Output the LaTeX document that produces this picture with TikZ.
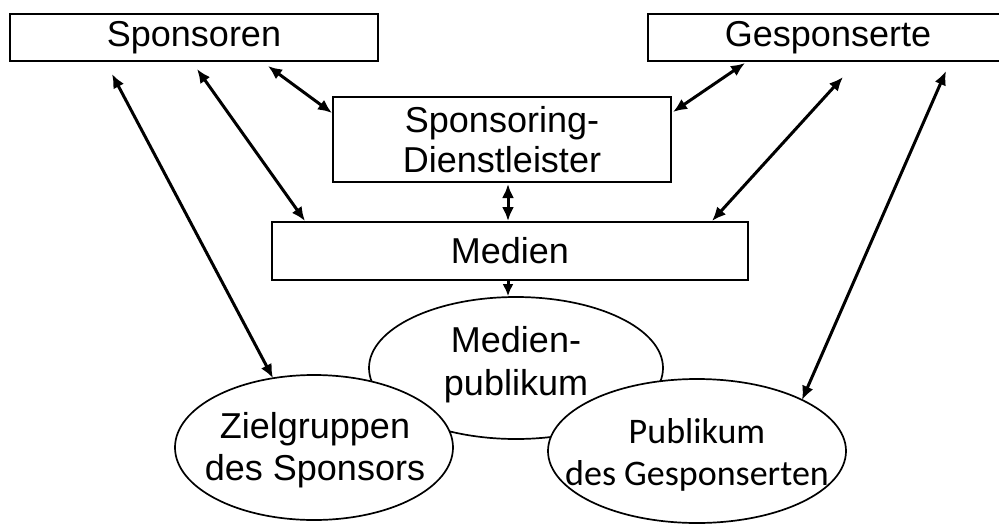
\documentclass[tikz,border=0pt]{standalone}
\usepackage{fontspec}
\setmainfont{Liberation Sans}
\newfontfamily\calib{Carlito}
\usetikzlibrary{shapes.geometric,arrows.meta,calc}
\begin{document}
\begin{tikzpicture}[x=1pt,y=-1pt,
  box/.style={draw,line width=2pt,inner sep=0pt,font=\fontsize{36}{40}\selectfont,align=center},
  oval/.style={draw,ellipse,line width=1.7pt,fill=white,inner sep=0pt},
  txt/.style={inner sep=0pt,align=center},
  conn/.style={line width=3pt,{Latex[length=14pt,width=12pt]}-{Latex[length=14pt,width=12pt]}},
  one/.style={line width=3pt,-{Latex[length=12pt,width=11pt]}}]
\fill[white] (0,0) rectangle (999,523);
\useasboundingbox (0,0) rectangle (999,523);
\node[box,minimum width=368pt,minimum height=47pt] (spons) at (194,37.5) {Sponsoren};
\node[box,minimum width=360pt,minimum height=47pt] (gesp) at (828,37.5) {Gesponserte};
\node[box,minimum width=338pt,minimum height=85pt] (dl) at (502,139.5) {Sponsoring-\\Dienstleister};
\node[box,minimum width=476pt,minimum height=58pt] (med) at (510,251) {Medien};
\node[oval,minimum width=294pt,minimum height=142pt] (mp) at (516,368) {};
\node[txt,font=\fontsize{36}{43}\selectfont] (mpt) at (516,365) {Medien-\\publikum};
\node[oval,minimum width=278pt,minimum height=145pt] (zg) at (314,447.5) {};
\node[txt,font=\fontsize{36}{42}\selectfont] (zgt) at (315,450) {Zielgruppen\\des Sponsors};
\node[oval,minimum width=298pt,minimum height=144pt] (pub) at (697,451) {};
\node[txt,font=\calib\fontsize{36}{42}\selectfont] (pubt) at (697,455) {Publikum\\des Gesponserten};
\draw[conn] ($(spons.south)+(74,4)$) -- ($(dl.west)+(0,-26.5)$);
\draw[conn] ($(spons.south)+(3,7)$) -- ($(med.north)+(-205,0)$);
\draw[conn] ($(spons.south)+(-82,12)$) -- ($(zg.center)+(-41,-69.3)$);
\draw[conn] ($(gesp.south)+(-83,1)$) -- ($(dl.east)+(1,-27.5)$);
\draw[conn] ($(gesp.south)+(15,15)$) -- ($(med.north)+(202,0)$);
\draw[conn] ($(gesp.south)+(118,9)$) -- ($(pub.center)+(105,-51)$);
\draw[conn] ($(dl.south)+(6,1)$) -- ($(med.north)+(-2,0)$);
\draw[one] ($(med.south)+(-2,0)$) -- ($(mp.north)+(-8,0)$);
\end{tikzpicture}
\end{document}
